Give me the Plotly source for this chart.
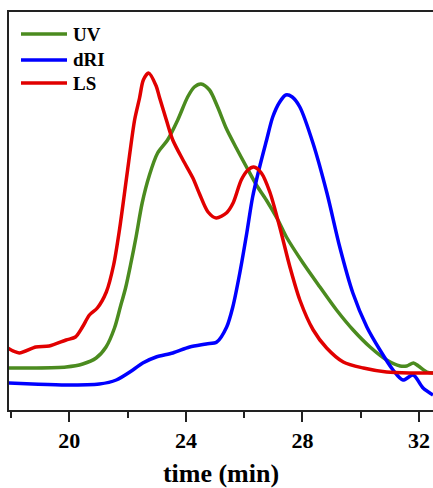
import plotly.graph_objects as go

# ---- data (time in min, signal in arbitrary units) ----
uv_time = [17.88, 18.73, 19.89, 20.46, 20.92, 21.26, 21.55, 21.75, 21.93, 22.10, 22.29,
           22.50, 22.75, 23.03, 23.37, 23.72, 24.06, 24.29, 24.52, 24.81, 25.09, 25.38,
           25.73, 26.08, 26.42, 26.76, 27.16, 27.45, 28.02, 28.60, 29.17, 29.74, 30.32,
           30.89, 31.35, 31.58, 31.81, 31.98, 32.27, 32.48]
uv_signal = [42, 42, 43, 46, 52, 63, 82, 103, 122, 145, 173,
             207, 235, 257, 270, 290, 313, 323, 326, 320, 303, 282,
             262, 243, 225, 210, 190, 173, 147, 123, 100, 80, 63,
             50, 44, 44, 47, 44, 38, 37]

dri_time = [17.88, 18.73, 19.89, 21.03, 21.61, 22.18, 22.52, 22.98, 23.55, 24.13, 24.70,
            25.06, 25.40, 25.61, 25.85, 26.09, 26.29, 26.53, 26.77, 26.98, 27.22, 27.43,
            27.65, 27.91, 28.36, 28.84, 29.28, 29.73, 30.21, 30.66, 31.11, 31.45,
            31.80, 32.14, 32.48]
dri_signal = [27, 26, 25, 26, 30, 40, 47, 53, 57, 63, 66,
              68, 83, 103, 137, 177, 213, 243, 270, 293, 308, 315,
              313, 303, 267, 217, 163, 117, 83, 60, 40, 30,
              35, 22, 15]

ls_time = [17.88, 18.28, 18.85, 19.31, 19.89, 20.21, 20.45, 20.69, 20.96, 21.27, 21.52,
           21.72, 22.00, 22.24, 22.41, 22.54, 22.72, 22.98, 23.09, 23.33, 23.55, 23.90,
           24.24, 24.47, 24.76, 25.04, 25.39, 25.62, 25.90, 26.13, 26.33, 26.59, 26.88,
           27.22, 27.57, 27.91, 28.37, 28.83, 29.40, 30.09, 30.89, 31.69, 32.48]
ls_signal = [62, 57, 63, 64, 70, 73, 83, 95, 102, 118, 145,
             180, 240, 290, 312, 330, 337, 324, 313, 290, 270, 250,
             232, 216, 198, 192, 197, 207, 230, 240, 243, 237, 218,
             183, 143, 110, 80, 62, 48, 42, 38, 37, 37]

series_names = ["UV", "dRI", "LS"]
series_colors = ["#4b8b1f", "#0000ff", "#e10000"]
x_tickvals = [20, 24, 28, 32]
x_ticktext = ["20", "24", "28", "32"]

fig = go.Figure()
for name, t, s, c in zip(series_names,
                         [uv_time, dri_time, ls_time],
                         [uv_signal, dri_signal, ls_signal],
                         series_colors):
    fig.add_trace(go.Scatter(x=t, y=s, mode="lines", name=name,
                             line=dict(color=c, width=3.5, shape="spline", smoothing=0.8),
                             showlegend=False))

# manual legend (paper coordinates)
W = 424.0
H = 398.0
legend_y_px = [34, 60, 83]
for name, c, ypx in zip(series_names, series_colors, legend_y_px):
    yy = (410 - ypx) / H
    fig.add_shape(type="line", xref="paper", yref="paper",
                  x0=(21 - 9) / W, x1=(67 - 9) / W, y0=yy, y1=yy,
                  line=dict(color=c, width=3.5))
    fig.add_annotation(xref="paper", yref="paper", x=(71 - 9) / W, y=yy,
                       xanchor="left", yanchor="middle", text=name, showarrow=False,
                       font=dict(family="Liberation Serif", size=19, color="black", weight="bold"))

axis_font = dict(family="Liberation Serif", size=22, color="black", weight="bold")
fig.update_layout(
    width=433, height=488,
    margin=dict(l=9, r=0, t=12, b=78),
    paper_bgcolor="white", plot_bgcolor="white",
    xaxis=dict(range=[17.93, 32.48], showgrid=False, zeroline=False, automargin=False,
               showline=True, linecolor="#222", linewidth=2, mirror=True,
               ticks="outside", ticklen=10, tickwidth=2, tickcolor="#222",
               tickvals=x_tickvals, ticktext=x_ticktext, tickfont=axis_font,
               minor=dict(dtick=2, tick0=18, ticks="outside", ticklen=6, tickwidth=2, tickcolor="#222"),
               title=dict(text="time (min)", standoff=17,
                          font=dict(family="Liberation Serif", size=26, color="black", weight="bold"))),
    yaxis=dict(range=[0, 398], showgrid=False, zeroline=False, showticklabels=False,
               automargin=False,
               showline=True, linecolor="#222", linewidth=2, ticks=""),
)

fig.write_html("out.html", config={"displayModeBar": False},
               post_script="document.body.style.margin='0';document.body.style.overflow='hidden';")
